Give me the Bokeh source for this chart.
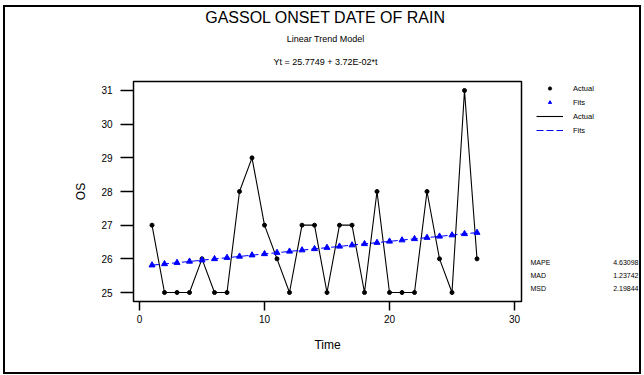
from bokeh.plotting import figure
from bokeh.layouts import column, row
from bokeh.models import (ColumnDataSource, Legend, LegendItem, FixedTicker, Range1d)
from bokeh.core.properties import value
from bokeh.embed import file_html
from bokeh.resources import INLINE

# ---- data ----
t = list(range(1, 28))
actual = [27, 25, 25, 25, 26, 25, 25, 28, 29, 27, 26, 25, 27, 27, 25, 27, 27,
          25, 28, 25, 25, 25, 28, 26, 25, 31, 26]
fits = [25.8121, 25.8493, 25.8865, 25.9237, 25.9609, 25.9981, 26.0353, 26.0725,
        26.1097, 26.1469, 26.1841, 26.2213, 26.2585, 26.2957, 26.3329, 26.3701,
        26.4073, 26.4445, 26.4817, 26.5189, 26.5561, 26.5933, 26.6305, 26.6677,
        26.7049, 26.7421, 26.7793]
x_ticks = [0, 10, 20, 30]
y_ticks = [25, 26, 27, 28, 29, 30, 31]
stat_names = ["MAPE", "MAD", "MSD"]
stat_values = ["4.63098", "1.23742", "2.19844"]
title_text = "GASSOL ONSET DATE OF RAIN"
subtitle_text = "Linear Trend Model"
equation_text = "Yt = 25.7749 + 3.72E-02*t"
legend_labels = ["Actual", "Fits", "Actual", "Fits"]

FONT = "Liberation Sans"
BLUE = "#0000ff"


def blank(width, height, xr, yr, top=0, bottom=0):
    f = figure(width=width, height=height, output_backend="svg",
               toolbar_location=None, x_range=Range1d(*xr),
               y_range=Range1d(*yr), min_border_left=0, min_border_right=0,
               min_border_top=top, min_border_bottom=bottom,
               x_axis_type=None, y_axis_type=None)
    f.grid.visible = False
    f.outline_line_color = None
    f.background_fill_color = "white"
    f.border_fill_color = "white"
    return f


# ---- title strip (page pixel coordinates) ----
top = blank(634, 70, (5, 639), (77, 7))
top.text(x=[325], y=[17], text=[title_text], text_align="center",
         text_baseline="middle", text_font=value(FONT), text_font_size="16px",
         text_color="black")
top.text(x=[325], y=[38], text=[subtitle_text], text_align="center",
         text_baseline="middle", text_font=value(FONT), text_font_size="9px",
         text_color="black")
top.text(x=[325], y=[61], text=[equation_text], text_align="center",
         text_baseline="middle", text_font=value(FONT), text_font_size="9px",
         text_color="black")

# ---- main chart ----
src = ColumnDataSource(dict(t=t, actual=actual, fits=fits))

p = figure(width=518, height=295, output_backend="svg", toolbar_location=None,
           x_range=Range1d(-0.48, 30.56), y_range=Range1d(24.733, 31.267),
           min_border_left=128, min_border_right=2, min_border_top=4,
           min_border_bottom=71)
p.grid.visible = False
p.outline_line_color = "black"
p.outline_line_width = 1.5
p.background_fill_color = "white"
p.border_fill_color = "white"

for ax in (p.xaxis[0], p.yaxis[0]):
    ax.axis_line_color = None
    ax.major_tick_in = 0
    ax.minor_tick_line_color = None
    ax.major_tick_line_color = "black"
    ax.major_tick_line_width = 1.5
    ax.major_label_text_font = FONT
    ax.major_label_text_font_size = "10px"
    ax.major_label_text_color = "black"
    ax.axis_label_text_font = FONT
    ax.axis_label_text_font_size = "12px"
    ax.axis_label_text_font_style = "normal"
    ax.axis_label_text_color = "black"

p.xaxis.ticker = FixedTicker(ticks=x_ticks)
p.yaxis.ticker = FixedTicker(ticks=y_ticks)
p.xaxis.major_tick_out = 9
p.yaxis.major_tick_out = 13
p.xaxis.major_label_standoff = 4
p.yaxis.major_label_standoff = 8
p.xaxis.axis_label = "Time"
p.yaxis.axis_label = "OS"
p.xaxis.axis_label_standoff = 12
p.yaxis.axis_label_standoff = 10

p.line("t", "actual", source=src, line_color="black", line_width=1.1)
p.scatter("t", "actual", source=src, marker="circle", size=4,
          fill_color="black", line_color="black")
p.line("t", "fits", source=src, line_color=BLUE, line_width=1.1,
       line_dash="7 3")
p.scatter("t", "fits", source=src, marker="triangle", size=6,
          fill_color=BLUE, line_color=BLUE)

# ---- right strip: legend and accuracy measures (page pixel coordinates) ----
# its frame is aligned with the main frame: page y 81..301
side = blank(116, 295, (523, 639), (301, 81), top=4, bottom=71)
# legend-only renderers, placed off the visible range
key = ColumnDataSource(dict(x=[-100, -90], y=[-100, -90]))
k_pts = side.scatter("x", "y", source=key, marker="circle", size=4,
                     fill_color="black", line_color="black")
k_tri = side.scatter("x", "y", source=key, marker="triangle", size=6,
                     fill_color=BLUE, line_color=BLUE)
k_line = side.line("x", "y", source=key, line_color="black", line_width=1.1)
k_dash = side.line("x", "y", source=key, line_color=BLUE, line_width=1.1,
                   line_dash="7 3")
legend = Legend(items=[LegendItem(label=lab, renderers=[r])
                       for lab, r in zip(legend_labels,
                                         [k_pts, k_tri, k_line, k_dash])],
                location=(13, 165), glyph_width=27, glyph_height=8,
                label_height=12, label_standoff=10, spacing=2, padding=0,
                margin=0, border_line_color=None, background_fill_alpha=0,
                label_text_font=FONT, label_text_font_size="7.5px",
                label_text_color="black")
side.add_layout(legend)

stat_y = [262, 275, 288]
side.text(x=[530] * 3, y=stat_y, text=stat_names, text_align="left",
          text_baseline="middle", text_font=value(FONT), text_font_size="7px",
          text_color="black")
side.text(x=[638] * 3, y=stat_y, text=stat_values, text_align="right",
          text_baseline="middle", text_font=value(FONT), text_font_size="7px",
          text_color="black")

layout = column(top, row(p, side, spacing=0), spacing=0,
                styles={"border": "2px solid black", "margin-left": "3px",
                        "margin-top": "5px"})

open("out.html", "w").write(file_html(layout, INLINE))
